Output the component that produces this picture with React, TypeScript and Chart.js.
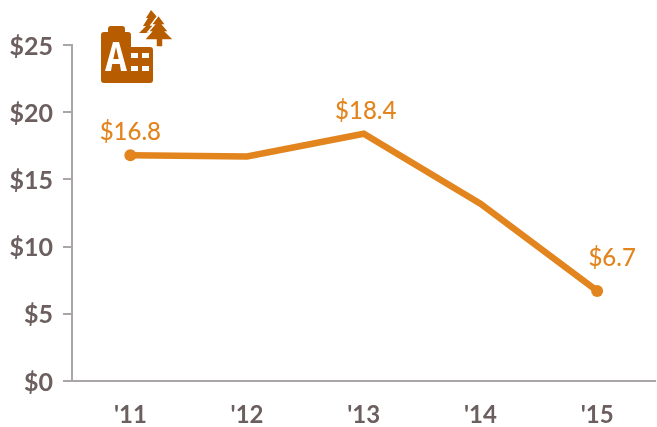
import React, { useEffect, useRef } from "react";
import { Chart, registerables } from "chart.js";

Chart.register(...registerables);

const categories = ["'11", "'12", "'13", "'14", "'15"];
const values = [16.8, 16.7, 18.4, 13.2, 6.7];
const labelled = [true, false, true, false, true];
const pointed = [true, false, false, false, true];
const yTicks = [0, 5, 10, 15, 20, 25];

const ORANGE = "#E3851F";
const GREY = "#6B5F5F";
const AXIS = "#ABA6A6";
const FONT = "Lato, 'Open Sans', sans-serif";
const LAST = values.length - 1;

const labelPlugin = {
  id: "valueLabels",
  afterDatasetsDraw(chart: any) {
    const { ctx, scales } = chart;
    ctx.save();
    ctx.font = `500 24px ${FONT}`;
    ctx.fillStyle = ORANGE;
    ctx.textAlign = "center";
    ctx.textBaseline = "middle";
    values.forEach((v, i) => {
      if (!labelled[i]) return;
      const dx = i === LAST ? 15 : i === 2 ? 2 : 0;
      const dy = i === LAST ? -33 : i === 2 ? -22 : -23;
      ctx.fillText("$" + v.toFixed(1), scales.x.getPixelForValue(i) + dx, scales.y.getPixelForValue(v) + dy);
    });
    ctx.restore();
  },
};

export default function App() {
  const ref = useRef<HTMLCanvasElement>(null);
  useEffect(() => {
    const chart = new Chart(ref.current!, {
      type: "line",
      data: {
        labels: categories,
        datasets: [
          {
            data: values,
            borderColor: ORANGE,
            backgroundColor: ORANGE,
            borderWidth: 6.5,
            tension: 0,
            pointRadius: pointed.map((p) => (p ? 6 : 0)),
            pointBackgroundColor: ORANGE,
            pointBorderWidth: 0,
          },
        ],
      },
      options: {
        animation: false,
        responsive: false,
        layout: { autoPadding: false, padding: { top: 45, right: 1.5, left: 0, bottom: 0 } },
        plugins: { legend: { display: false }, tooltip: { enabled: false } },
        scales: {
          x: {
            offset: true,
            afterFit: (s: any) => { s.height = 46; },
            grid: { display: false, drawTicks: false, offset: true },
            border: { color: AXIS, width: 2 },
            ticks: { color: GREY, font: { family: FONT, size: 24, weight: "bold" }, padding: 20, maxRotation: 0 },
          },
          y: {
            min: 0,
            max: 25,
            afterFit: (s: any) => { s.width = 72; },
            afterBuildTicks: (s: any) => { s.ticks = yTicks.map((value) => ({ value })); },
            grid: { drawOnChartArea: false, drawTicks: true, tickLength: 9, color: AXIS, lineWidth: 2 },
            border: { color: AXIS, width: 2 },
            ticks: { color: GREY, font: { family: FONT, size: 25, weight: "bold" }, padding: 10, labelOffset: 1.5, callback: (v: any) => "$" + v },
          },
        },
      },
      plugins: [labelPlugin],
    } as any);
    return () => chart.destroy();
  }, []);
  return (
    <div style={{ position: "fixed", left: 0, top: 0, width: 657, height: 427, background: "#fff" }}>
      <canvas ref={ref} width={657} height={427} style={{ display: "block" }} />
      <svg viewBox="0 0 100 90" style={{ position: "absolute", left: 90, top: 0, width: 100, height: 90 }}>
        <path fill="#B85C00" d="M11 80 V35 Q11 32 14 32 H18 V29 Q18 26 21 26 H32 Q35 26 35 29 V32 H38 Q41 32 41 35 V47 H60 Q63 47 63 50 V80 Q63 83 60 83 H14 Q11 83 11 80 Z" />
        <path fill="#fff" d="M15 71 L23 42 H29 L37 71 H31 L29.8 64 H22.2 L21 71 Z M23.3 59 H28.7 L26 47 Z" />
        <path fill="#fff" d="M41 53 H48 V58 H41 Z M52 53 H59 V58 H52 Z M41 66 H48 V71 H41 Z M52 66 H59 V71 H52 Z" />
        <path fill="#B85C00" d="M61 10 L68 18 H65 L72 26 L62 33 H49 L56 26 H53 L58 18 H56 Z" />
        <path fill="#B85C00" stroke="#fff" strokeWidth={1.5} d="M68.5 15 L76 25 H73 L79 32 H76 L84 40 H73 V47 H66 V40 H54 L61 32 H58 L64 25 H61 Z" />
      </svg>
    </div>
  );
}
